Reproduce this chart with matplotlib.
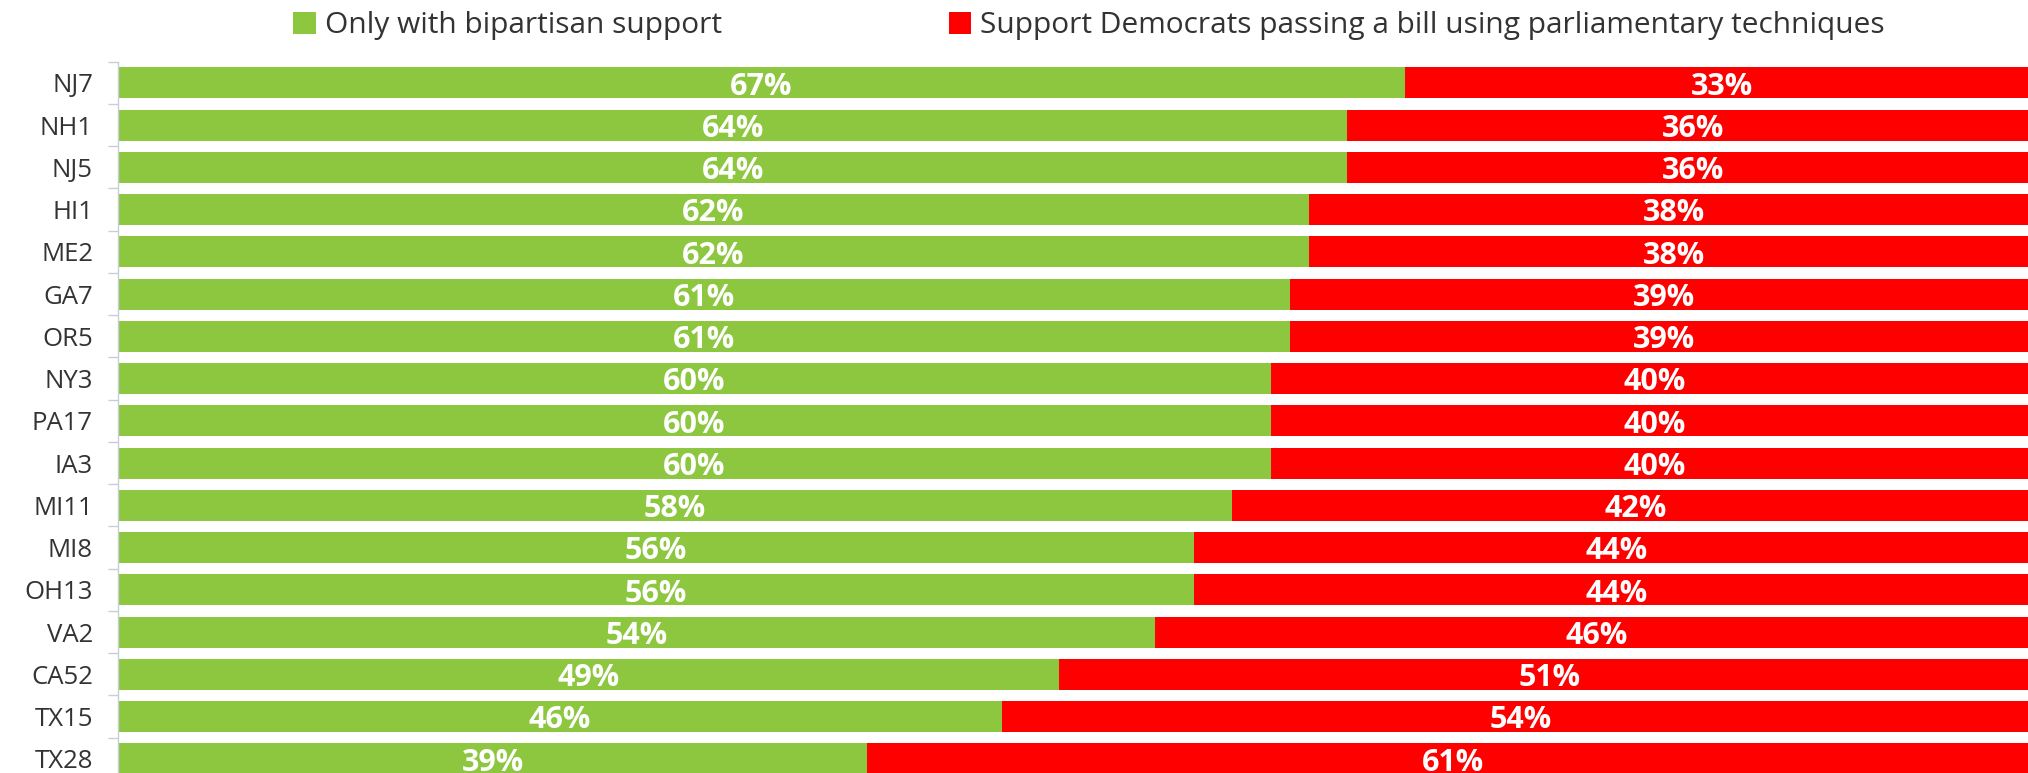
import matplotlib
matplotlib.use("Agg")
import matplotlib.pyplot as plt
from matplotlib.patches import Patch
from matplotlib.ticker import FixedLocator
import numpy as np

plt.rcParams['font.family'] = ['Open Sans', 'DejaVu Sans']

districts = ["NJ7", "NH1", "NJ5", "HI1", "ME2", "GA7", "OR5", "NY3", "PA17",
             "IA3", "MI11", "MI8", "OH13", "VA2", "CA52", "TX15", "TX28"]
bipartisan = [67, 64, 64, 62, 62, 61, 61, 60, 60, 60, 58, 56, 56, 54, 49, 46, 39]
parliamentary = [33, 36, 36, 38, 38, 39, 39, 40, 40, 40, 42, 44, 44, 46, 51, 54, 61]

series_names = ["Only with bipartisan support",
                "Support Democrats passing a bill using parliamentary techniques"]
green = "#8DC63F"
red = "#FF0000"
text_grey = "#333333"

W, H = 2028, 773
fig = plt.figure(figsize=(W / 100, H / 100), dpi=100)

# axes run a little past the right and bottom edges of the canvas
left_px, top_px, width_px, row_px = 118, 61.7, 1921, 42.25
height_px = row_px * len(districts)
ax = fig.add_axes([left_px / W, (H - top_px - height_px) / H,
                   width_px / W, height_px / H])

y = np.arange(len(districts))
bar_h = 0.734
b1 = ax.barh(y, bipartisan, height=bar_h, color=green)
b2 = ax.barh(y, parliamentary, left=bipartisan, height=bar_h, color=red)

for bars, vals in ((b1, bipartisan), (b2, parliamentary)):
    for rect, v in zip(bars, vals):
        ax.text(rect.get_x() + rect.get_width() / 2,
                rect.get_y() + rect.get_height() / 2 + 0.09,
                f"{v}%", ha="center", va="center", color="white",
                fontsize=22, fontweight="bold")

ax.set_xlim(0, 100)
ax.set_ylim(len(districts) - 0.5, -0.5)
ax.set_xticks([])
ax.set_yticks(y)
ax.set_yticklabels(districts, fontsize=18.5, color=text_grey)
ax.yaxis.set_minor_locator(FixedLocator(np.arange(-0.5, len(districts), 1)))
ax.tick_params(axis="y", which="major", length=0, pad=18)
ax.tick_params(axis="y", which="minor", length=7, width=1, color="#c8ced6")

for s in ("top", "right", "bottom"):
    ax.spines[s].set_visible(False)
ax.spines["left"].set_color("#c8ced6")
ax.spines["left"].set_linewidth(1)

handles = [Patch(facecolor=green), Patch(facecolor=red)]
fig.legend(handles, series_names, loc="center", bbox_to_anchor=(1089 / W, 1 - 26 / H),
           ncol=2, frameon=False, fontsize=21.5, labelcolor=text_grey,
           handlelength=0.75, handleheight=0.75, handletextpad=0.3, columnspacing=7.6)

fig.savefig("out.png", dpi=100)
